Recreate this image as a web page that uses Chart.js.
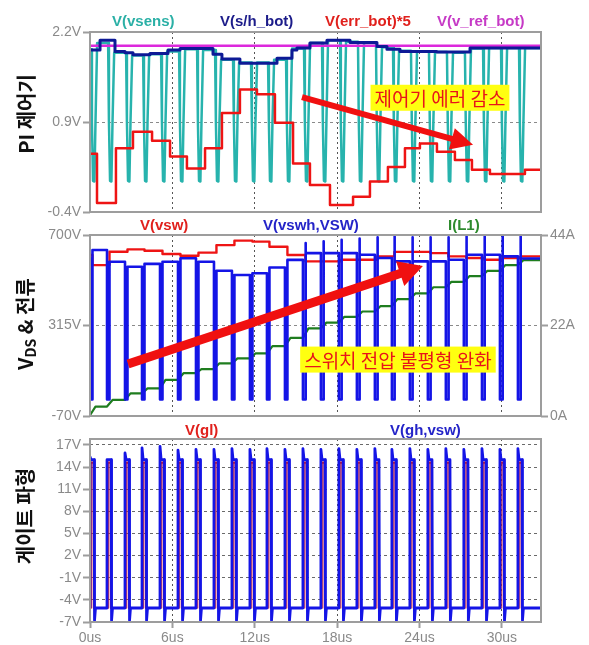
<!DOCTYPE html>
<html>
<head>
<meta charset="utf-8">
<script src="https://cdn.jsdelivr.net/npm/chart.js@4/dist/chart.umd.min.js"></script>
<style>
  body { margin: 0; background: #fff; width: 589px; height: 645px; overflow: hidden; position: relative; }
  canvas { position: absolute; left: 0; }
  .lg { position: absolute; font: bold 15px Arial, "Liberation Sans", sans-serif; white-space: nowrap; transform: translateY(-50%); }
  .yt { position: absolute; font: 700 20px "Noto Sans CJK KR", sans-serif; white-space: nowrap; color: #111;
        transform: translate(-50%, -50%) rotate(-90deg); }
  .yt sub { font-size: 14px; vertical-align: -3px; }
</style>
</head>
<body>
<canvas id="c1" width="589" height="225" style="top:0"></canvas>
<canvas id="c2" width="589" height="212" style="top:218px"></canvas>
<canvas id="c3" width="589" height="220" style="top:425px"></canvas>

<div class="lg" style="left:112px;top:20px;color:#2bb0a6">V(vsens)</div>
<div class="lg" style="left:220px;top:20px;color:#1c1c8a">V(s/h_bot)</div>
<div class="lg" style="left:325px;top:20px;color:#e0201c">V(err_bot)*5</div>
<div class="lg" style="left:437px;top:20px;color:#c63ac6">V(v_ref_bot)</div>

<div class="lg" style="left:140px;top:224px;color:#e0201c">V(vsw)</div>
<div class="lg" style="left:263px;top:224px;color:#2424c8">V(vswh,VSW)</div>
<div class="lg" style="left:448px;top:224px;color:#2e8b2e">I(L1)</div>

<div class="lg" style="left:185px;top:429px;color:#e0201c">V(gl)</div>
<div class="lg" style="left:390px;top:429px;color:#2424c8">V(gh,vsw)</div>

<div class="yt" style="left:25px;top:114px">PI 제어기</div>
<div class="yt" style="left:25px;top:324px">V<sub>DS</sub> &amp; 전류</div>
<div class="yt" style="left:24px;top:516px">게이트 파형</div>

<script>
// ── Axes ──────────────────────────────────────────────────────────────────────
const X_MAX = 32.85;                       // us, right edge of the plots
const xTicks = [0, 6, 12, 18, 24, 30];
const yTicksPI = [-0.4, 0.9, 2.2];
const yTicksVds = [-70, 315, 700];
const yTicksAmp = [0, 22, 44];
const yTicksGate = [-7, -4, -1, 2, 5, 8, 11, 14, 17];

// ── Switching instants (us) ─────────────────────────
const pulseTimes = [0.0, 1.24, 2.55, 3.79, 5.10, 6.41, 7.72, 9.03, 10.34, 11.65, 12.89, 14.20,
  15.51, 16.82, 18.13, 19.44, 20.75, 21.99, 23.30, 24.61, 25.92, 27.23, 28.55, 29.86, 31.17];
const onTime = 0.30;      // gate pulse width
const swLowTime = 0.18;   // how long V(vswh,VSW) sits near 0 V

// ── PI 제어기 panel ───────────────────────────────────────────────────────────
const vrefTimes = [0, X_MAX];
const vrefValues = [2.0, 2.0];

const shTimes  = [0, 0.73, 1.82, 2.55, 3.13, 4.37, 5.68, 6.56, 8.96, 9.61, 10.92, 13.62,
  14.71, 15.07, 16.02, 17.26, 18.94, 20.90, 21.63, 22.58, 25.27, 27.68];
const shValues = [1.94, 2.08, 1.92, 1.90, 1.87, 1.89, 1.94, 1.96, 1.88, 1.81, 1.75, 1.82,
  1.94, 1.97, 2.04, 2.08, 2.05, 1.99, 1.95, 1.92, 1.91, 1.97];

const errTimes  = [0, 0.51, 1.89, 3.13, 4.52, 5.83, 7.06, 8.38, 9.61, 10.92, 12.16, 13.47,
  14.79, 16.02, 17.48, 19.16, 20.39, 21.70, 22.94, 24.03, 25.27, 26.58, 27.82, 29.13, 31.68];
const errValues = [0.44, -0.27, 0.52, 0.76, 0.63, 0.40, 0.23, 0.52, 1.03, 1.37, 1.30, 0.89,
  0.30, -0.01, -0.30, -0.18, 0.04, 0.25, 0.52, 0.59, 0.47, 0.35, 0.21, 0.15, 0.21];

const vsensStart = 1.95;
const vsensTop = [2.04, 1.90, 1.86, 1.88, 1.92, 1.95, 1.94, 1.80, 1.76, 1.76, 1.80, 1.96,
  2.04, 2.08, 2.06, 2.04, 1.98, 1.93, 1.92, 1.91, 1.90, 1.96, 1.97, 1.97, 1.97];
// shape of one vsens dip (us after the switching instant, volts); ends take the top level
const dipDt    = [0.08, 0.14, 0.22, 0.32, 0.40, 0.52];
const dipLevel = [null, 0.90, 0.05, 0.04, 0.90, null];

// ── V_DS & 전류 panel ─────────────────────────────────────────────────────────
const vswStart = 615;
const vswLevels = [572, 629, 639, 633, 619, 612, 625, 657, 676, 672, 650, 615,
  588, 588, 595, 595, 609, 628, 628, 623, 609, 602, 595, 602, 609];
const vswhStart = 602;
const vswhLow = 0;
const vswhLevels = [636, 586, 565, 577, 586, 601, 586, 548, 530, 537, 562, 594,
  623, 623, 623, 616, 602, 588, 588, 588, 595, 616, 616, 609, 600];
const vswhSpike = [null, null, null, null, null, null, null, null, null, null, null, null,
  666, 673, 680, 685, 690, 695, 690, 690, 690, 695, 695, 695, 695];
const iL1Start = 0.2;
const iL1Levels = [2.3, 3.9, 5.5, 6.7, 8.8, 10.4, 11.4, 12.8, 14.0, 15.2, 17.0, 19.0,
  21.3, 22.7, 24.1, 25.4, 26.7, 28.4, 29.8, 31.3, 32.6, 34.0, 35.3, 36.7, 37.9];
const iRise = 0.4;

// ── 게이트 파형 panel ─────────────────────────────────────────────────────────
const gateLow = -5.1;
const gateUndershoot = -6.8;
const gatePlateau = 15.0;
const ghPeak = [15.4, 15.0, 15.9, 16.6, 16.8, 16.3, 16.4, 16.4, 16.5, 16.4, 16.5, 16.4,
  16.5, 16.4, 16.5, 16.4, 16.5, 16.4, 16.5, 16.4, 16.5, 16.4, 16.5, 16.4, 16.5];
const glTop = 14.6;

// ── Series builders ───────────────────────────────────────────────────────────
function steps(times, values) {
  const pts = times.map((t, i) => ({ x: t, y: values[i] }));
  pts.push({ x: X_MAX, y: values[values.length - 1] });
  return pts;
}

function vsensPoints() {
  const pts = [{ x: 0, y: vsensStart }];
  let top = vsensStart;
  pulseTimes.forEach((t, k) => {
    dipDt.forEach((dt, j) => {
      let y = dipLevel[j];
      if (j === 0) y = top;
      if (j === dipDt.length - 1) y = vsensTop[k];
      pts.push({ x: t + dt, y });
    });
    top = vsensTop[k];
  });
  pts.push({ x: X_MAX, y: top });
  return pts;
}

function vswPoints() {
  const pts = [{ x: 0, y: vswStart }];
  let lvl = vswStart;
  pulseTimes.forEach((t, k) => {
    pts.push({ x: t + swLowTime, y: lvl }, { x: t + swLowTime, y: vswLevels[k] });
    lvl = vswLevels[k];
  });
  pts.push({ x: X_MAX, y: lvl });
  return pts;
}

function vswhPoints() {
  const pts = [{ x: 0, y: vswhStart }];
  let lvl = vswhStart;
  pulseTimes.forEach((t, k) => {
    pts.push({ x: t, y: lvl }, { x: t, y: vswhLow }, { x: t + swLowTime, y: vswhLow });
    if (vswhSpike[k] !== null) {
      pts.push({ x: t + swLowTime, y: vswhSpike[k] }, { x: t + swLowTime + 0.04, y: vswhLevels[k] });
    } else {
      pts.push({ x: t + swLowTime, y: vswhLevels[k] });
    }
    lvl = vswhLevels[k];
  });
  pts.push({ x: X_MAX, y: lvl });
  return pts;
}

function iL1Points() {
  const pts = [{ x: 0, y: iL1Start }];
  let lvl = iL1Start;
  pulseTimes.forEach((t, k) => {
    pts.push({ x: t, y: lvl }, { x: t + iRise, y: iL1Levels[k] });
    lvl = iL1Levels[k];
  });
  pts.push({ x: X_MAX, y: lvl });
  return pts;
}

function ghPoints() {
  const pts = [];
  pulseTimes.forEach((t, k) => {
    pts.push({ x: t, y: gateLow }, { x: t, y: ghPeak[k] }, { x: t + 0.08, y: gatePlateau },
      { x: t + onTime, y: gatePlateau }, { x: t + onTime + 0.03, y: gateUndershoot },
      { x: t + onTime + 0.1, y: gateLow });
  });
  pts.push({ x: X_MAX, y: gateLow });
  return pts;
}

function glPoints() {
  const pts = [{ x: 0, y: gateLow }];
  pulseTimes.forEach(t => {
    pts.push({ x: t + 0.05, y: gateLow }, { x: t + 0.05, y: glTop },
      { x: t + 0.26, y: glTop }, { x: t + 0.28, y: gateLow });
  });
  pts.push({ x: X_MAX, y: gateLow });
  return pts;
}

// ── Plugins ───────────────────────────────────────────────────────────────────
const frame = {
  id: 'frame',
  afterDatasetsDraw(chart) {
    const { ctx, chartArea: a } = chart;
    ctx.save();
    ctx.strokeStyle = '#9d9d9d';
    ctx.lineWidth = 2;
    ctx.strokeRect(a.left, a.top, a.right - a.left, a.bottom - a.top);
    ctx.restore();
  }
};

function arrow(ctx, x1, y1, x2, y2, w, hl, hw) {
  const L = Math.hypot(x2 - x1, y2 - y1);
  ctx.save();
  ctx.translate(x1, y1);
  ctx.rotate(Math.atan2(y2 - y1, x2 - x1));
  ctx.beginPath();
  ctx.moveTo(0, -w / 2); ctx.lineTo(L - hl, -w / 2); ctx.lineTo(L - hl, -hw);
  ctx.lineTo(L, 0); ctx.lineTo(L - hl, hw); ctx.lineTo(L - hl, w / 2); ctx.lineTo(0, w / 2);
  ctx.closePath();
  ctx.fillStyle = '#f01010';
  ctx.fill();
  ctx.restore();
}

// red arrow + yellow note, placed in data coordinates
const note = {
  id: 'note',
  afterDraw(chart, args, o) {
    if (!o || !o.text) return;
    const { ctx, scales } = chart;
    const xs = scales.x, ys = scales.y;
    arrow(ctx, xs.getPixelForValue(o.from[0]), ys.getPixelForValue(o.from[1]),
      xs.getPixelForValue(o.to[0]), ys.getPixelForValue(o.to[1]), o.width, o.headLen, o.headHalf);
    ctx.save();
    ctx.font = '19px "Noto Sans CJK KR", sans-serif';
    const cx = xs.getPixelForValue(o.at[0]), cy = ys.getPixelForValue(o.at[1]);
    const w = ctx.measureText(o.text).width + 8;
    ctx.fillStyle = '#ffff10';
    ctx.fillRect(cx - w / 2, cy - 13, w, 26);
    ctx.fillStyle = '#e8141a';
    ctx.textAlign = 'center';
    ctx.textBaseline = 'middle';
    ctx.fillText(o.text, cx, cy + 1);
    ctx.restore();
  }
};

// ── Scale helpers ─────────────────────────────────────────────────────────────
const tickFont = { family: 'Arial', size: 14 };
const tickGray = '#8a8a8a';

function xScale(showLabels) {
  return {
    type: 'linear', min: 0, max: X_MAX,
    afterBuildTicks: s => { s.ticks = xTicks.map(v => ({ value: v })); },
    afterFit: s => { s.height = showLabels ? 23 : 0; },
    grid: { color: '#555', lineWidth: 1, drawTicks: showLabels, tickLength: 6,
            tickColor: '#9d9d9d', tickWidth: 2, tickBorderDash: [] },
    border: { display: false, dash: [2, 3] },
    ticks: { display: showLabels, color: tickGray, font: tickFont, padding: 2,
             maxRotation: 0, callback: v => v + 'us' }
  };
}

function yScale(tickList, min, max, unit, gridColor, dash, pos) {
  return {
    type: 'linear', min, max, position: pos || 'left',
    afterBuildTicks: s => { s.ticks = tickList.map(v => ({ value: v })); },
    afterFit: s => { s.width = pos === 'right' ? 48 : 90; },
    grid: { color: gridColor, lineWidth: 1, drawOnChartArea: pos !== 'right', tickLength: 7,
            tickColor: '#9d9d9d', tickWidth: 2, tickBorderDash: [] },
    border: { display: false, dash },
    ticks: { color: tickGray, font: tickFont, padding: 2, callback: v => v + unit }
  };
}

const midOnly = c => (c.index === 1 ? '#8a8a8a' : 'rgba(0,0,0,0)');

function line(data, color, width, order, stepped) {
  return { data, borderColor: color, borderWidth: width, pointRadius: 0, fill: false,
           tension: 0, order, stepped: stepped || false, borderJoinStyle: 'round' };
}

const base = {
  type: 'line',
  plugins: [frame, note],
};
const commonOpts = {
  responsive: false, animation: false, events: [],
  plugins: { legend: { display: false }, tooltip: { enabled: false } }
};

// ── Panel 1: PI 제어기 ─────────────────────────────────────────────────────────
new Chart(document.getElementById('c1'), {
  ...base,
  data: {
    datasets: [
      line(vsensPoints(), '#27b3ad', 2.5, 4),
      line(steps(vrefTimes, vrefValues), '#dc28dc', 2.5, 3),
      line(steps(shTimes, shValues), '#0d1a96', 3, 1, true),
      line(steps(errTimes, errValues), '#ee1414', 2.5, 0, true)
    ]
  },
  options: {
    ...commonOpts,
    layout: { padding: { left: 0, right: 48, top: 32, bottom: 13 } },
    scales: { x: xScale(false), y: yScale(yTicksPI, -0.4, 2.2, 'V', midOnly, [3, 3]) },
    plugins: { ...commonOpts.plugins,
      note: { text: '제어기 에러 감소', at: [25.49, 1.25], from: [15.44, 1.26], to: [27.9, 0.57],
              width: 6, headLen: 22, headHalf: 11 } }
  }
});

// ── Panel 2: V_DS & 전류 ──────────────────────────────────────────────────────
new Chart(document.getElementById('c2'), {
  ...base,
  data: {
    datasets: [
      line(vswPoints(), '#ee1414', 2.4, 3),
      { ...line(iL1Points(), '#1f7d1f', 2.2, 1), yAxisID: 'y1' },
      line(vswhPoints(), '#1414e6', 2.6, 0)
    ]
  },
  options: {
    ...commonOpts,
    layout: { padding: { left: 0, right: 0, top: 17, bottom: 14 } },
    scales: {
      x: xScale(false),
      y: yScale(yTicksVds, -70, 700, 'V', midOnly, [3, 3]),
      y1: yScale(yTicksAmp, 0, 44, 'A', 'rgba(0,0,0,0)', [], 'right')
    },
    plugins: { ...commonOpts.plugins,
      note: { text: '스위치 전압 불평형 완화', at: [22.43, 170], from: [2.77, 151], to: [24.25, 568],
              width: 9, headLen: 24, headHalf: 13 } }
  }
});

// ── Panel 3: 게이트 파형 ──────────────────────────────────────────────────────
new Chart(document.getElementById('c3'), {
  ...base,
  data: {
    datasets: [
      line(glPoints(), '#d81818', 2.2, 1),
      line(ghPoints(), '#1414e6', 2.8, 0)
    ]
  },
  options: {
    ...commonOpts,
    layout: { padding: { left: 0, right: 48, top: 14, bottom: 0 } },
    scales: { x: xScale(true), y: yScale(yTicksGate, -7, 17.8, 'V', '#6a6a6a', [3, 3]) }
  }
});
</script>
</body>
</html>
